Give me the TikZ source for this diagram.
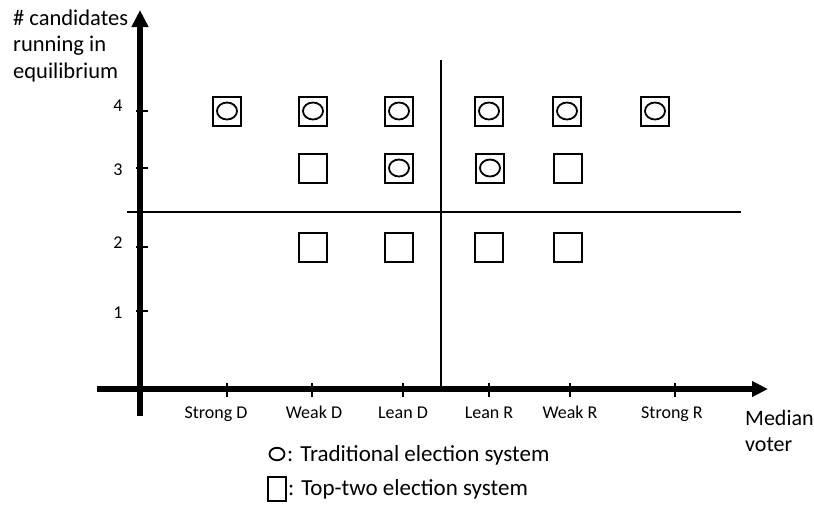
\documentclass[tikz,border=0pt]{standalone}
\usepackage{fontspec}
\setmainfont{Carlito}
\usetikzlibrary{arrows.meta,shapes.geometric}
\begin{document}
\begin{tikzpicture}[x=1pt,y=-1pt,
  axis/.style={line width=5.5pt},
  tickmark/.style={line width=1.8pt},
  divider/.style={line width=2pt},
  cell/.style={draw, line width=2pt, minimum width=28pt, minimum height=29pt, inner sep=0pt},
  trad/.style={cell, path picture={\draw[line width=1.8pt] (path picture bounding box.center) ellipse [x radius=10pt, y radius=8.5pt];}},
  ticklab/.style={font=\fontsize{18}{21}\selectfont, inner sep=0pt, anchor=base},
  biglab/.style={font=\fontsize{22.5}{27}\selectfont, inner sep=0pt, anchor=base west},
  leglab/.style={font=\fontsize{23}{27}\selectfont, inner sep=0pt, anchor=base west}
]
\useasboundingbox (0,0) rectangle (814,512);

% dividers
\coordinate (vt) at (441,60);
\coordinate (vb) at (441,389);
\coordinate (hl) at (127,212);
\coordinate (hr) at (741,212);
\draw[divider] (vt) -- (vb);
\draw[divider] (hl) -- (hr);

% axes
\coordinate (yb) at (140,416);
\coordinate (yt) at (140,10);
\coordinate (xl) at (97,389);
\coordinate (xr) at (768,389);
\draw[axis, -{Triangle[length=17pt,width=16pt]}] (yb) -- (yt);
\draw[axis, -{Triangle[length=16pt,width=15pt]}] (xl) -- (xr);

% y ticks
\foreach \n/\y in {4/111, 3/168, 2/247, 1/311} {
  \coordinate (ytl\n) at (136,\y);
  \coordinate (ytr\n) at (148,\y);
  \draw[tickmark] (ytl\n) -- (ytr\n);
}
\node[ticklab] (l4) at (118,111) {4};
\node[ticklab] (l3) at (118,175) {3};
\node[ticklab] (l2) at (118,248) {2};
\node[ticklab] (l1) at (118,318) {1};

% x ticks
\foreach \n/\x in {a/227, b/312, c/403, d/489, e/570, f/675} {
  \coordinate (xtt\n) at (\x,383);
  \coordinate (xtb\n) at (\x,397);
  \draw[tickmark] (xtt\n) -- (xtb\n);
}
\node[ticklab] (sd) at (216,418) {Strong D};
\node[ticklab] (wd) at (314,418) {Weak D};
\node[ticklab] (ld) at (403,418) {Lean D};
\node[ticklab] (lr) at (489,418) {Lean R};
\node[ticklab] (wr) at (570,418) {Weak R};
\node[ticklab] (sr) at (672,418) {Strong R};

% axis titles
\node[biglab] (t1) at (13,25) {\# candidates};
\node[biglab] (t2) at (13,51) {running in};
\node[biglab] (t3) at (13,78) {equilibrium};
\node[biglab,font=\fontsize{22}{26}\selectfont] (m1) at (745,425) {Median};
\node[biglab,font=\fontsize{22}{26}\selectfont] (m2) at (745,451) {voter};

% row 4
\node[trad] (r4a) at (227,111) {};
\node[trad] (r4b) at (313,111) {};
\node[trad] (r4c) at (399,111) {};
\node[trad] (r4d) at (489,111) {};
\node[trad] (r4e) at (567,111) {};
\node[trad] (r4f) at (655,111) {};
% row 3
\node[cell] (r3b) at (313,168) {};
\node[trad] (r3c) at (399,168) {};
\node[trad] (r3d) at (490,168) {};
\node[cell] (r3e) at (568,168) {};
% row 2
\node[cell] (r2b) at (313,247) {};
\node[cell] (r2c) at (399,247) {};
\node[cell] (r2d) at (489,247) {};
\node[cell] (r2e) at (568,247) {};

% legend
\node[draw, line width=1.8pt, ellipse, minimum width=15pt, minimum height=12.5pt, inner sep=0pt] (lc) at (277,454) {};
\node[leglab] (lt1) at (287,461) {: Traditional election system};
\node[draw, line width=1.8pt, minimum width=18pt, minimum height=24pt, inner sep=0pt] (ls) at (277,489) {};
\node[leglab] (lt2) at (288,495) {: Top-two election system};
\end{tikzpicture}
\end{document}
